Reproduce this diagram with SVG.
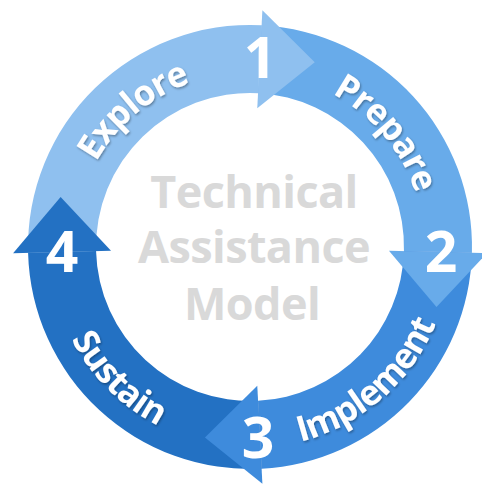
<svg xmlns="http://www.w3.org/2000/svg" width="482" height="485" viewBox="0 0 482 485">
<defs>
<style>
.lbl{font-family:"Open Sans","Noto Sans","Liberation Sans",sans-serif;font-weight:700;font-size:35px;letter-spacing:-0.8px;fill:#ffffff;filter:url(#sh)}
.num{font-family:"Open Sans","Noto Sans","Liberation Sans",sans-serif;font-weight:700;font-size:57px;fill:#ffffff;text-anchor:middle}
.ctr{font-family:"Open Sans","Noto Sans","Liberation Sans",sans-serif;font-weight:700;font-size:45px;letter-spacing:-0.6px;fill:#d9d9d9;text-anchor:middle}
.c1{fill:#8fc0ef}.c2{fill:#68abea}.c3{fill:#3e8bdc}.c4{fill:#2371c3}
</style>
<filter id="sh" x="-10%" y="-20%" width="120%" height="140%">
<feDropShadow dx="1" dy="1.5" stdDeviation="1" flood-color="#000" flood-opacity="0.35"/>
</filter>
<path id="pExplore" d="M76.41,217.95 A174,174 0 0 1 248.48,73.01"/>
<path id="pPrepare" d="M280.21,75.64 A174,174 0 0 1 424,247"/>
<path id="pImplement" d="M253.51,447.97 A201,201 0 0 0 448.53,278.44"/>
<path id="pSustain" d="M49.77,264.52 A201,201 0 0 0 232.48,447.24"/>
</defs>
<rect width="482" height="485" fill="#ffffff"/>
<g id="connectors">
<path class="c1" d="M28.08,252.81 A222,222 0 0 1 261.62,25.30 L258.06,93.21 A154,154 0 0 0 96.05,251.03 Z"/>
<path class="c2" d="M261.62,25.30 A222,222 0 0 1 471.92,252.81 L403.95,251.03 A154,154 0 0 0 258.06,93.21 Z"/>
<path class="c3" d="M471.92,252.81 A222,222 0 0 1 261.62,468.70 L258.06,400.79 A154,154 0 0 0 403.95,251.03 Z"/>
<path class="c4" d="M261.62,468.70 A222,222 0 0 1 28.08,252.81 L96.05,251.03 A154,154 0 0 0 258.06,400.79 Z"/>
<polygon class="c1" points="262.39,10.33 314.75,62.14 257.27,108.19"/>
<polygon class="c2" points="486.92,253.20 436.50,306.90 388.96,250.64"/>
<polygon class="c3" points="262.40,483.67 204.92,437.62 257.28,385.81"/>
<polygon class="c4" points="13.08,253.20 60.62,196.94 111.04,250.64"/>
</g>
<g id="explore">
<text class="lbl"><textPath href="#pExplore" startOffset="50%" text-anchor="middle">Explore</textPath></text>
<text class="num" x="260" y="78">1</text>
</g>
<g id="prepare">
<text class="lbl"><textPath href="#pPrepare" startOffset="50%" text-anchor="middle">Prepare</textPath></text>
<text class="num" x="441" y="272">2</text>
</g>
<g id="implement">
<text class="lbl"><textPath href="#pImplement" startOffset="50%" text-anchor="middle">Implement</textPath></text>
<text class="num" x="258" y="458">3</text>
</g>
<g id="sustain">
<text class="lbl"><textPath href="#pSustain" startOffset="50%" text-anchor="middle">Sustain</textPath></text>
<text class="num" x="62" y="272">4</text>
</g>
<g id="center">
<text class="ctr" x="254" y="208">Technical</text>
<text class="ctr" x="254" y="263">Assistance</text>
<text class="ctr" x="252" y="320">Model</text>
</g>
</svg>
